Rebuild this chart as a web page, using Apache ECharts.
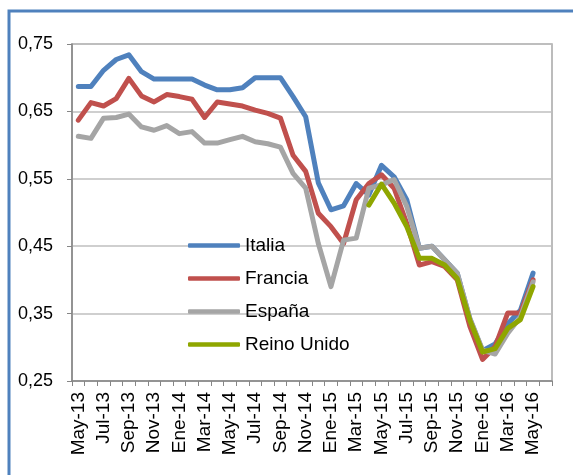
<!DOCTYPE html>
<html>
<head>
<meta charset="utf-8">
<script src="https://cdn.jsdelivr.net/npm/echarts@6/dist/echarts.min.js"></script>
<style>
  html, body { margin: 0; padding: 0; background: #fff; }
  #chart { width: 573px; height: 475px; }
</style>
</head>
<body>
<div id="chart"></div>
<script>
// meses May-13 .. Jun-16 (el último sin datos)
var months = ['May-13','Jun-13','Jul-13','Ago-13','Sep-13','Oct-13','Nov-13','Dic-13',
  'Ene-14','Feb-14','Mar-14','Abr-14','May-14','Jun-14','Jul-14','Ago-14','Sep-14','Oct-14','Nov-14','Dic-14',
  'Ene-15','Feb-15','Mar-15','Abr-15','May-15','Jun-15','Jul-15','Ago-15','Sep-15','Oct-15','Nov-15','Dic-15',
  'Ene-16','Feb-16','Mar-16','Abr-16','May-16','Jun-16'];

var italia = [0.687,0.687,0.711,0.727,0.734,0.709,0.698,0.698,0.698,0.698,0.689,0.682,0.682,0.685,0.700,0.700,0.700,0.672,0.642,0.544,
  0.504,0.510,0.543,0.526,0.570,0.553,0.519,0.447,0.450,0.430,0.410,0.342,0.295,0.305,0.335,0.355,0.410,null];
var francia = [0.637,0.663,0.658,0.669,0.699,0.673,0.664,0.675,0.672,0.668,0.641,0.664,0.661,0.658,0.652,0.647,0.640,0.585,0.561,0.499,
  0.479,0.454,0.519,0.543,0.556,0.536,0.484,0.422,0.427,0.420,0.400,0.331,0.282,0.301,0.351,0.351,0.400,null];
var espana = [0.613,0.610,0.640,0.641,0.646,0.627,0.622,0.629,0.617,0.620,0.603,0.603,0.608,0.613,0.605,0.602,0.597,0.558,0.536,0.454,
  0.390,0.459,0.462,0.536,0.541,0.549,0.509,0.447,0.450,0.430,0.410,0.343,0.296,0.290,0.321,0.345,0.397,null];
var reinoUnido = [null,null,null,null,null,null,null,null,null,null,null,null,null,null,null,null,null,null,null,null,
  null,null,null,0.511,0.542,0.514,0.479,0.432,0.432,0.422,0.402,0.340,0.293,0.298,0.328,0.341,0.390,null];

var seriesNames = ['Italia','Francia','España','Reino Unido'];
var seriesData = [italia, francia, espana, reinoUnido];
var colors = ['#4F81BD','#C0504D','#A5A5A5','#8FA600'];

var font = 'Arial, "Liberation Sans", sans-serif';

var chart = echarts.init(document.getElementById('chart'));

var series = seriesNames.map(function (name, i) {
  return {
    name: name,
    type: 'line',
    data: seriesData[i],
    showSymbol: false,
    symbol: 'none',
    lineStyle: { color: colors[i], width: 5, cap: 'round', join: 'round' },
    itemStyle: { color: colors[i] },
    emphasis: { disabled: true },
    z: 2 + i
  };
});

chart.setOption({
  animation: false,
  backgroundColor: '#fff',
  graphic: [{
    type: 'rect',
    shape: { x: 9, y: 11, width: 700, height: 600 },
    style: { fill: 'none', stroke: '#4F81BD', lineWidth: 3 },
    silent: true
  }],
  grid: {
    left: 72, right: 21, top: 44, bottom: 94,
    show: true, borderColor: '#A6A6A6', borderWidth: 1.5, backgroundColor: 'transparent'
  },
  legend: {
    orient: 'vertical',
    left: 183, top: 230,
    itemWidth: 52, itemHeight: 4.5, itemGap: 12,
    icon: 'roundRect',
    textStyle: { fontFamily: font, fontSize: 19, color: '#000', lineHeight: 21 },
    data: seriesNames
  },
  xAxis: {
    type: 'category',
    data: months,
    boundaryGap: true,
    axisLine: { lineStyle: { color: '#868686', width: 1.5 } },
    axisTick: { show: true, interval: 0, length: 5, lineStyle: { color: '#868686' } },
    axisLabel: { interval: 1, rotate: 90, fontFamily: font, fontSize: 19, color: '#000', margin: 11 },
    splitLine: { show: false }
  },
  yAxis: {
    type: 'value',
    min: 0.25, max: 0.75, interval: 0.1,
    axisLine: { show: true, lineStyle: { color: '#868686', width: 1.5 } },
    axisTick: { show: true, length: 5, lineStyle: { color: '#868686' } },
    axisLabel: {
      fontFamily: font, fontSize: 18, color: '#000', margin: 19,
      formatter: function (v) { return v.toFixed(2).replace('.', ','); }
    },
    splitLine: { lineStyle: { color: '#BFBFBF', width: 1.5 } }
  },
  series: series
});
</script>
</body>
</html>
